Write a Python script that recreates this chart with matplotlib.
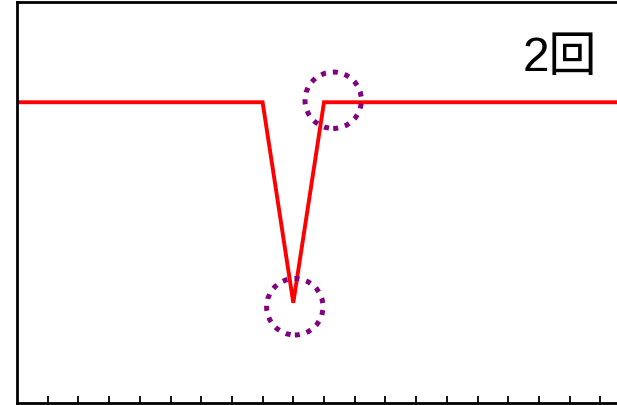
import matplotlib.pyplot as plt

# signal: flat, one dip, flat again
x_vals = [0, 8, 9, 10, 20]
y_vals = [3, 3, 1, 3, 3]

# highlighted spots
mark_x = [9.05, 10.3]
mark_y = [0.96, 3.02]

label_text = "2回"
x_ticks = list(range(1, 20))


def main():
    fig = plt.figure(figsize=(6.17, 4.06), dpi=100)
    ax = fig.add_axes([17 / 617, 2 / 406, 614 / 617, 401 / 406])

    ax.plot(x_vals, y_vals, color='red', linewidth=2.8, solid_joinstyle='miter')
    ax.scatter(mark_x, mark_y, s=1650, facecolors='none', edgecolors='purple',
               linewidths=3.6, linestyle=(0, (1, 1.4)), zorder=3)

    ax.text(18.88, 3.45, label_text, fontsize=34.5, ha='right', va='center',
            family=['Liberation Sans', 'Noto Sans CJK JP'])

    ax.set_xlim(0, 20)
    ax.set_ylim(0, 4)
    ax.set_xticks(x_ticks)
    ax.set_xticklabels([])
    ax.set_yticks([])
    ax.tick_params(axis='x', direction='in', length=5, width=1.3)
    for s in ax.spines.values():
        s.set_linewidth(2)

    fig.savefig('out.png', dpi=100)


if __name__ == "__main__":
    main()
